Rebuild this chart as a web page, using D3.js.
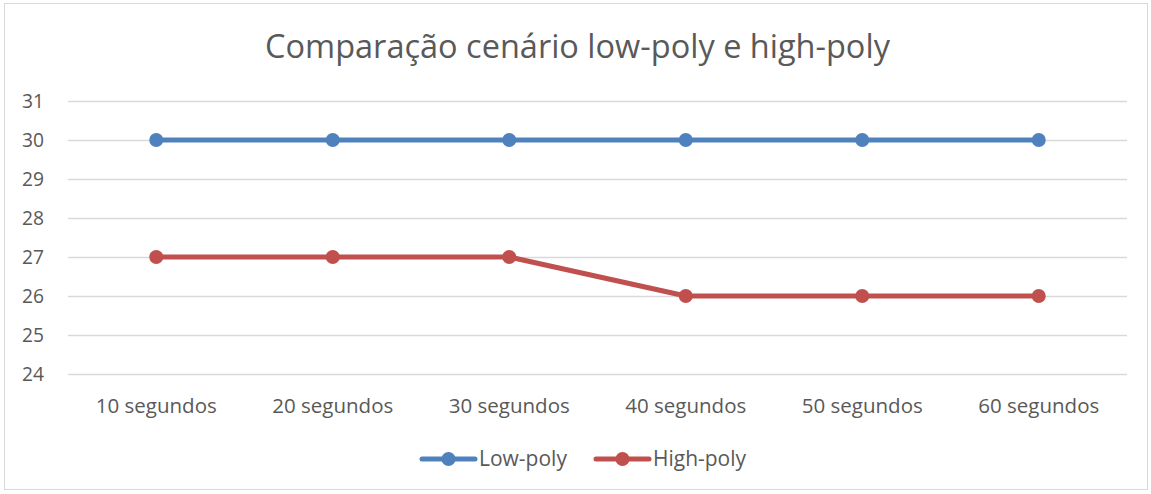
<!DOCTYPE html>
<html><head><meta charset="utf-8">
<script src="https://cdn.jsdelivr.net/npm/d3@7"></script>
<style>body{margin:0;background:#fff}svg{display:block}text{font-family:"Open Sans",sans-serif;fill:#595959}</style>
</head><body>
<script>
const title = "Comparação cenário low-poly e high-poly";
const categories = ["10 segundos","20 segundos","30 segundos","40 segundos","50 segundos","60 segundos"];
const lowPoly = [30,30,30,30,30,30];
const highPoly = [27,27,27,26,26,26];
const yTicks = [24,25,26,27,28,29,30,31];
const seriesNames = ["Low-poly","High-poly"];
const colors = ["#4f81bd","#c0504d"];

const W=1151,H=494;
const svg=d3.select("body").append("svg").attr("width",W).attr("height",H);
svg.append("rect").attr("x",4.5).attr("y",3.5).attr("width",1143).attr("height",486).attr("fill","#fff").attr("stroke","#d9d9d9").attr("stroke-width",1);

const pLeft=68,pRight=1127,pTop=101,pBottom=374;
const x=d3.scaleBand().domain(categories).range([pLeft,pRight]).paddingInner(0).paddingOuter(0);
const y=d3.scaleLinear().domain([24,31]).range([pBottom,pTop]);

function fitSize(sel,target){const w=sel.node().getComputedTextLength();const fs=parseFloat(sel.attr("font-size"));return fs*target/w;}

const t=svg.append("text").attr("x",(265+890)/2).attr("y",58).attr("text-anchor","middle").attr("font-size",28).text(title);
t.attr("font-size",fitSize(t,625));

// grid
const yAxis=d3.axisLeft(y).tickValues(yTicks).tickSize(-(pRight-pLeft)).tickFormat(d3.format("d"));
const gy=svg.append("g").attr("transform",`translate(${pLeft},0)`).call(yAxis);
gy.select(".domain").remove();
gy.selectAll(".tick line").attr("stroke","#d9d9d9").attr("stroke-width",1.3);
const yl=gy.selectAll(".tick text").attr("font-size",17).style("font-family","'Open Sans',sans-serif").attr("fill","#595959").attr("x",-24).attr("text-anchor","end");
const yfs=fitSize(d3.select(yl.nodes()[0]),22);
yl.attr("font-size",yfs);

const xAxis=d3.axisBottom(x).tickSize(0).tickPadding(25);
const gx=svg.append("g").attr("transform",`translate(0,${pBottom})`).call(xAxis);
gx.select(".domain").remove();
const xl=gx.selectAll(".tick text").attr("font-size",17).style("font-family","'Open Sans',sans-serif").attr("fill","#595959").attr("dy","0.35em");
const xfs=fitSize(d3.select(xl.nodes()[0]),121);
xl.attr("font-size",xfs).attr("y",32);

const cx=d=>x(d)+x.bandwidth()/2;
[lowPoly,highPoly].forEach((vals,i)=>{
  const pts=categories.map((c,j)=>[cx(c),y(vals[j])]);
  svg.append("path").attr("d",d3.line()(pts)).attr("fill","none").attr("stroke",colors[i]).attr("stroke-width",5).attr("stroke-linecap","round").attr("stroke-linejoin","round");
  svg.selectAll(null).data(pts).enter().append("circle").attr("cx",d=>d[0]).attr("cy",d=>d[1]).attr("r",7).attr("fill",colors[i]);
});

// legend
const legX=[420,594];
const legW=[88,93];
seriesNames.forEach((n,i)=>{
  const g=svg.append("g").attr("transform",`translate(${legX[i]},459)`);
  g.append("line").attr("x1",2).attr("x2",55).attr("stroke",colors[i]).attr("stroke-width",5).attr("stroke-linecap","round");
  g.append("circle").attr("cx",28.5).attr("r",7).attr("fill",colors[i]);
  const tx=g.append("text").attr("x",59).attr("y",0).attr("dy","0.35em").attr("font-size",17).text(n);
  tx.attr("font-size",fitSize(tx,legW[i]));
});
</script>
</body></html>
